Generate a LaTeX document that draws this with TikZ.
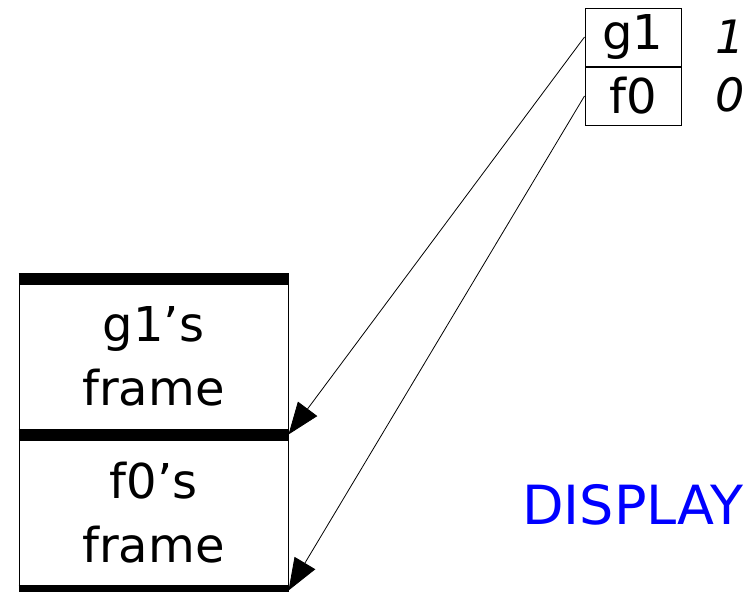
\documentclass[tikz,border=0pt]{standalone}
\usepackage{fontspec}
\setmainfont{DejaVu Sans}
\usetikzlibrary{arrows.meta, positioning}
\tikzstyle{frame} = [rectangle,
minimum width=269pt,
minimum height=155pt,
inner sep=0pt,
text centered,
align=center,
draw=black,
line width=1pt,
font=\fontsize{48}{64}\selectfont]
\tikzstyle{cell} = [rectangle,
minimum width=96pt,
minimum height=58pt,
inner sep=0pt,
draw=black,
line width=1pt,
font=\fontsize{48}{50}\selectfont]
\tikzstyle{val} = [font=\fontsize{46}{50}\selectfont\itshape]
\tikzstyle{bar} = [line width=12pt]
\tikzstyle{arrow} = [line width=0.8pt,
-{Triangle[length=32pt,width=24pt]}]

\begin{document}
\begin{tikzpicture}[x=1pt, y=-1pt]
			\useasboundingbox (0,0) rectangle (753,592);
			
			% the stack
			\node (g1frame) [frame] at (153.5,356.5) {g1’s\\frame};
			\node (f0frame) [frame, below=0pt of g1frame] {f0’s\\frame};
			
			\draw [bar] (g1frame.north west) -- (g1frame.north east);
			\draw [bar] (g1frame.south west) -- (g1frame.south east);
			\draw [bar] (f0frame.south west) -- (f0frame.south east);
			
			% the display
			\node (g1cell) [cell] at (633,37) {g1};
			\node (f0cell) [cell, below=0pt of g1cell] {f0};
			\node (g1val) [val] at (730,37) {1};
			\node (f0val) [val] at (730,95) {0};
			
			\node (display) [font=\fontsize{54}{58}\selectfont, text=blue] at (633,505) {DISPLAY};
			
			\draw [arrow] (g1cell.west) -- (g1frame.south east);
			\draw [arrow] (f0cell.west) -- (f0frame.south east);
			
			\end{tikzpicture}
\end{document}
